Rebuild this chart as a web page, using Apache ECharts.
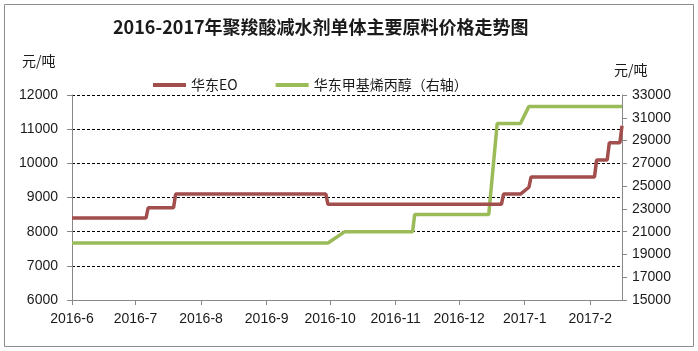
<!DOCTYPE html>
<html>
<head>
<meta charset="utf-8">
<script src="https://cdn.jsdelivr.net/npm/echarts@6/dist/echarts.min.js"></script>
<style>
html,body{margin:0;padding:0;background:#fff;}
#c{width:698px;height:351px;}
</style>
</head>
<body>
<div id="c"></div>
<script>
var titleText = '2016-2017年聚羧酸减水剂单体主要原料价格走势图';
var seriesNames = ['华东EO', '华东甲基烯丙醇（右轴）'];
var unitText = '元/吨';

var monthTicks = ['2016-06-01','2016-07-01','2016-08-01','2016-09-01','2016-10-01','2016-11-01','2016-12-01','2017-01-01','2017-02-01'];
var xMin = '2016-06-01';
var xMax = '2017-02-16';

var eoDates = ['2016-06-01','2016-07-06','2016-07-07','2016-07-19','2016-07-20','2016-09-29','2016-09-30','2016-12-21','2016-12-22','2016-12-30','2017-01-03','2017-01-04','2017-02-03','2017-02-04','2017-02-09','2017-02-10','2017-02-15','2017-02-16'];
var eoValues = [8400,8400,8700,8700,9100,9100,8800,8800,9100,9100,9300,9600,9600,10100,10100,10600,10600,11100];

var maDates = ['2016-06-01','2016-09-30','2016-10-08','2016-11-09','2016-11-10','2016-12-15','2016-12-19','2016-12-30','2017-01-03','2017-02-16'];
var maValues = [20000,20000,21000,21000,22500,22500,30500,30500,32000,32000];

function ts(s){ var p = s.split('-'); return Date.UTC(+p[0], +p[1]-1, +p[2]); }
function zip(d, v){ return d.map(function(x,i){ return [ts(x), v[i]]; }); }
function plain(v){ return String(v); }

var font = '"Liberation Sans", "Noto Sans CJK SC", sans-serif';
var cjk = '"Noto Sans CJK SC", "Liberation Sans", sans-serif';
var txt = '#1a1a1a';
var red = '#A24E4C';
var green = '#9BBB59';

var chart = echarts.init(document.getElementById('c'));
chart.setOption({
  backgroundColor: '#fff',
  animation: false,
  title: {
    text: titleText, left: 108, top: 13,
    textStyle: {fontFamily: cjk, fontSize: 18, fontWeight: 'bold', color: txt}
  },
  legend: {
    left: 148, top: 73, itemGap: 38, itemWidth: 33, itemHeight: 4, icon: 'rect',
    textStyle: {fontFamily: cjk, fontSize: 14, color: txt},
    data: seriesNames
  },
  graphic: [
    {type: 'rect', shape: {x: 4.5, y: 4.5, width: 689, height: 342}, style: {fill: 'none', stroke: '#8c8c8c', lineWidth: 1}, silent: true},
    {type: 'text', left: 22, top: 54, style: {text: unitText, font: '14px "Noto Sans CJK SC"', fill: txt}},
    {type: 'text', left: 614, top: 63, style: {text: unitText, font: '14px "Noto Sans CJK SC"', fill: txt}}
  ],
  grid: {left: 72, right: 76, top: 95, bottom: 51},
  xAxis: {
    type: 'value', min: ts(xMin), max: ts(xMax),
    axisLine: {lineStyle: {color: '#888', width: 1}},
    axisTick: {show: true, customValues: monthTicks.map(ts), length: 5, lineStyle: {color: '#888'}},
    axisLabel: {
      customValues: monthTicks.map(ts), margin: 12, color: txt, fontFamily: font, fontSize: 14,
      showMinLabel: true, showMaxLabel: true,
      formatter: function(v){ var d = new Date(v); return d.getUTCFullYear() + '-' + (d.getUTCMonth()+1); }
    },
    splitLine: {show: false}
  },
  yAxis: [
    {
      type: 'value', min: 6000, max: 12000, interval: 1000,
      axisLine: {show: true, lineStyle: {color: '#888'}},
      axisTick: {show: true, length: 5, lineStyle: {color: '#888'}},
      axisLabel: {color: txt, fontFamily: font, fontSize: 14, margin: 14, formatter: plain},
      splitLine: {show: true, lineStyle: {color: '#000', type: [3,2], width: 1}}
    },
    {
      type: 'value', min: 15000, max: 33000, interval: 2000,
      axisLine: {show: true, lineStyle: {color: '#888'}},
      axisTick: {show: true, length: 5, lineStyle: {color: '#888'}},
      axisLabel: {color: txt, fontFamily: font, fontSize: 14, margin: 10, formatter: plain},
      splitLine: {show: false}
    }
  ],
  series: [
    {name: seriesNames[0], type: 'line', yAxisIndex: 0, data: zip(eoDates, eoValues), showSymbol: false, symbol: 'none',
     lineStyle: {color: red, width: 3.5}, itemStyle: {color: red}, z: 3},
    {name: seriesNames[1], type: 'line', yAxisIndex: 1, data: zip(maDates, maValues), showSymbol: false, symbol: 'none',
     lineStyle: {color: green, width: 3.5}, itemStyle: {color: green}, z: 2}
  ]
});
</script>
</body>
</html>
